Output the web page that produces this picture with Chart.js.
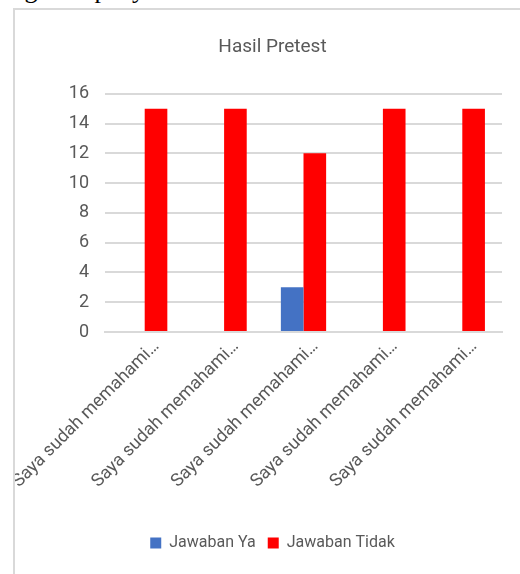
<!DOCTYPE html>
<html>
<head>
<meta charset="utf-8">
<script src="https://cdn.jsdelivr.net/npm/chart.js@4"></script>
<style>
  html, body { margin: 0; padding: 0; background: #fff; overflow: hidden; }
  #above {
    position: absolute; left: 0; top: -25px;
    font: 26px "Liberation Serif", "DejaVu Serif", serif; color: #000;
    white-space: nowrap;
  }
  #box {
    position: absolute; left: 13px; top: 8px;
    width: 520px; height: 580px;
    border-left: 2px solid #d9d9d9; border-top: 2px solid #d9d9d9;
    background: #fff;
  }
  #wrap { position: absolute; left: 0; top: 0; width: 505px; height: 564px; }
</style>
</head>
<body>
<div id="above">kegiatan penyuluhan</div>
<div id="box"><div id="wrap"><canvas id="grafik"></canvas></div></div>
<script>
const kategori = [
  "Saya sudah memahami…",
  "Saya sudah memahami…",
  "Saya sudah memahami…",
  "Saya sudah memahami…",
  "Saya sudah memahami…"
];
const jawabanYa = [0, 0, 3, 0, 0];
const jawabanTidak = [15, 15, 12, 15, 15];
const skalaY = [0, 2, 4, 6, 8, 10, 12, 14, 16];

const abu = "#595959";
const huruf = "'Liberation Sans Narrow', 'Roboto', sans-serif";

new Chart(document.getElementById("grafik"), {
  type: "bar",
  data: {
    labels: kategori,
    datasets: [
      {
        label: "Jawaban Ya",
        data: jawabanYa,
        backgroundColor: "#4472c4",
        categoryPercentage: 0.57,
        barPercentage: 1,
      },
      {
        label: "Jawaban Tidak",
        data: jawabanTidak,
        backgroundColor: "#ff0000",
        categoryPercentage: 0.57,
        barPercentage: 1,
      },
    ],
  },
  options: {
    responsive: true,
    maintainAspectRatio: false,
    animation: false,
    layout: { padding: { left: 28, right: 18, top: 0, bottom: 13 } },
    scales: {
      x: {
        grid: { display: false, drawTicks: false },
        border: { display: true, color: "#d9d9d9", width: 2 },
        ticks: {
          color: abu,
          font: { family: huruf, size: 18 },
          maxRotation: 45,
          minRotation: 45,
          autoSkip: false,
          padding: 4,
          labelOffset: 12,
        },
        afterFit: (s) => {
          s.height = 191;
          s.paddingLeft = 0;
          s.paddingRight = 0;
        },
      },
      y: {
        min: 0,
        max: 16,
        afterBuildTicks: (s) => { s.ticks = skalaY.map((v) => ({ value: v })); },
        grid: { color: "#d9d9d9", lineWidth: 2, drawTicks: false },
        border: { display: false },
        ticks: {
          color: abu,
          font: { family: huruf, size: 18 },
          padding: 16,
        },
        afterFit: (s) => { s.width = 62; },
      },
    },
    plugins: {
      title: {
        display: true,
        text: "Hasil Pretest",
        color: abu,
        font: { family: huruf, size: 19, weight: "normal" },
        padding: { top: 26, bottom: 35 },
      },
      legend: {
        position: "bottom",
        labels: {
          color: abu,
          font: { family: huruf, size: 16 },
          boxWidth: 11,
          boxHeight: 11,
          padding: 12,
        },
      },
      tooltip: { enabled: false },
    },
  },
});
</script>
</body>
</html>
